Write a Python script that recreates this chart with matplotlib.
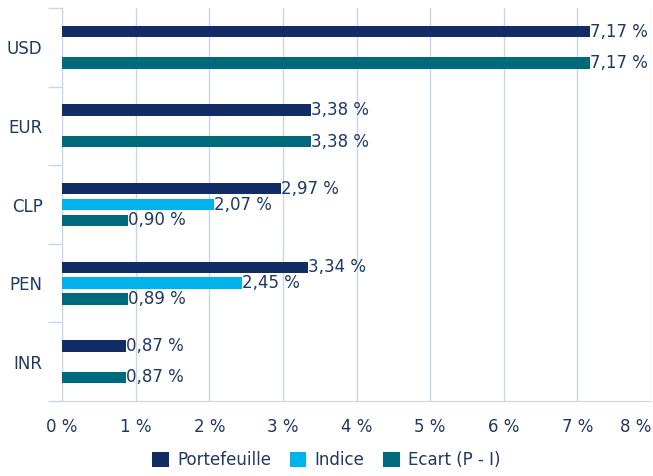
import matplotlib.pyplot as plt
import numpy as np

plt.rcParams['font.family'] = ['DejaVu Sans']

categories = ['USD', 'EUR', 'CLP', 'PEN', 'INR']
portefeuille = [7.17, 3.38, 2.97, 3.34, 0.87]
indice = [0.0, 0.0, 2.07, 2.45, 0.0]
ecart = [7.17, 3.38, 0.90, 0.89, 0.87]

series = [('Portefeuille', portefeuille, '#122d66'),
          ('Indice', indice, '#00b3ea'),
          ('Ecart (P - I)', ecart, '#006a7d')]

txt = '#1f3864'
grid = '#c9d5e8'
fs = 12

fig = plt.figure(figsize=(6.53, 4.76), dpi=100)
ax = fig.add_axes([62/653, 1-401/476, 589/653, 393/476])

y = np.arange(len(categories))
slot = 0.2
h = 0.145
for i, (name, vals, col) in enumerate(series):
    pos = y + (i - 1) * slot
    bars = ax.barh(pos, vals, height=h, color=col, label=name, zorder=3)
    for b, v in zip(bars, vals):
        if v == 0:
            continue
        ax.text(v, b.get_y() + b.get_height()/2, ('%.2f %%' % v).replace('.', ','),
                va='center', ha='left', fontsize=fs, color=txt, zorder=4)

ax.set_xlim(0, 8)
ax.set_ylim(len(categories) - 0.5, -0.5)
ax.set_xticks(range(9))
ax.set_xticklabels(['%d %%' % t for t in range(9)], fontsize=fs, color=txt)
ax.get_xticklabels()[-1].set_horizontalalignment('right')
ax.set_yticks(y)
ax.set_yticklabels(categories, fontsize=fs, color=txt)
ax.set_yticks(np.arange(len(categories) + 1) - 0.5, minor=True)
ax.tick_params(axis='y', which='major', length=0, pad=14)
ax.tick_params(axis='y', which='minor', length=10, color=grid, width=1)
ax.tick_params(axis='x', length=0, pad=12)
ax.grid(axis='x', color=grid, linewidth=1, zorder=0)

for s in ['top', 'right']:
    ax.spines[s].set_visible(False)
for s in ['left', 'bottom']:
    ax.spines[s].set_color(grid)

leg = fig.legend(loc='center', bbox_to_anchor=(0.5, 1-460/476), ncol=3, frameon=False,
                 fontsize=fs, handlelength=1.0, handleheight=1.0, handletextpad=0.5,
                 columnspacing=1.1)
for t in leg.get_texts():
    t.set_color(txt)

plt.savefig('out.png', dpi=100)
